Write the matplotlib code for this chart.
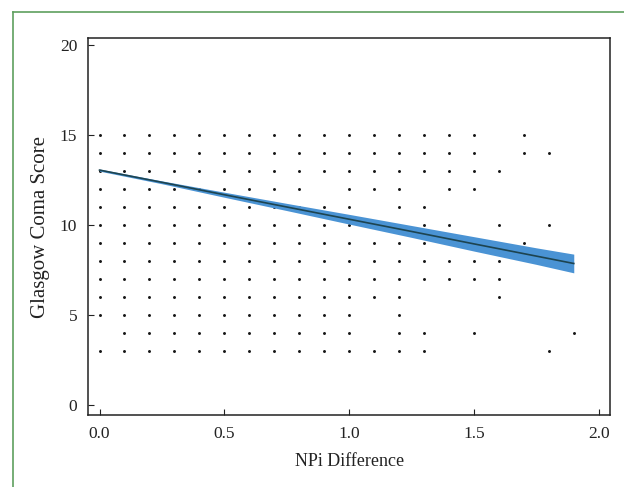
import matplotlib
matplotlib.use('Agg')

import matplotlib.pyplot as plt
from matplotlib.lines import Line2D
import numpy as np

# NPi Difference values that have a point, one list per Glasgow Coma Score
npi_gcs15 = [0.0, 0.1, 0.2, 0.3, 0.4, 0.5, 0.6, 0.7, 0.8, 0.9, 1.0, 1.1, 1.2, 1.3, 1.4, 1.5, 1.7]
npi_gcs14 = [0.0, 0.1, 0.2, 0.3, 0.4, 0.5, 0.6, 0.7, 0.8, 0.9, 1.0, 1.1, 1.2, 1.3, 1.4, 1.5, 1.7, 1.8]
npi_gcs13 = [0.0, 0.1, 0.2, 0.3, 0.4, 0.5, 0.6, 0.7, 0.8, 0.9, 1.0, 1.1, 1.2, 1.3, 1.4, 1.5, 1.6]
npi_gcs12 = [0.0, 0.1, 0.2, 0.3, 0.4, 0.5, 0.6, 0.7, 0.8, 1.0, 1.1, 1.2, 1.4, 1.5]
npi_gcs11 = [0.0, 0.1, 0.2, 0.3, 0.4, 0.5, 0.6, 0.7, 0.8, 0.9, 1.0, 1.2, 1.3]
npi_gcs10 = [0.0, 0.1, 0.2, 0.3, 0.4, 0.5, 0.6, 0.7, 0.8, 0.9, 1.0, 1.1, 1.2, 1.3, 1.4, 1.6, 1.8]
npi_gcs9 = [0.0, 0.1, 0.2, 0.3, 0.4, 0.5, 0.6, 0.7, 0.8, 0.9, 1.0, 1.1, 1.2, 1.3, 1.4, 1.5, 1.7]
npi_gcs8 = [0.0, 0.1, 0.2, 0.3, 0.4, 0.5, 0.6, 0.7, 0.8, 0.9, 1.0, 1.1, 1.2, 1.3, 1.4, 1.5, 1.6]
npi_gcs7 = [0.0, 0.1, 0.2, 0.3, 0.4, 0.5, 0.6, 0.7, 0.8, 0.9, 1.0, 1.1, 1.2, 1.3, 1.4, 1.5, 1.6]
npi_gcs6 = [0.0, 0.1, 0.2, 0.3, 0.4, 0.5, 0.6, 0.7, 0.8, 0.9, 1.0, 1.1, 1.2, 1.6]
npi_gcs5 = [0.0, 0.1, 0.2, 0.3, 0.4, 0.5, 0.6, 0.7, 0.8, 0.9, 1.0, 1.2]
npi_gcs4 = [0.1, 0.2, 0.3, 0.4, 0.5, 0.6, 0.7, 0.8, 0.9, 1.0, 1.2, 1.3, 1.5, 1.9]
npi_gcs3 = [0.0, 0.1, 0.2, 0.3, 0.4, 0.5, 0.6, 0.7, 0.8, 0.9, 1.0, 1.1, 1.2, 1.3, 1.8]

rows = {15: npi_gcs15, 14: npi_gcs14, 13: npi_gcs13, 12: npi_gcs12, 11: npi_gcs11,
        10: npi_gcs10, 9: npi_gcs9, 8: npi_gcs8, 7: npi_gcs7, 6: npi_gcs6,
        5: npi_gcs5, 4: npi_gcs4, 3: npi_gcs3}

# regression line and its confidence band
fit_x = [0.0, 0.25, 0.5, 0.75, 1.0, 1.25, 1.5, 1.75, 1.9]
fit_y = [13.06, 12.38, 11.69, 11.01, 10.33, 9.65, 8.96, 8.28, 7.87]
ci_lo = [13.00, 12.30, 11.55, 10.81, 10.06, 9.32, 8.56, 7.82, 7.35]
ci_hi = [13.12, 12.46, 11.83, 11.21, 10.60, 9.98, 9.36, 8.74, 8.39]

plt.rcParams['font.family'] = ['Liberation Serif', 'DejaVu Serif']

fig = plt.figure(figsize=(6.24, 4.87), dpi=100)
ax = fig.add_axes([0.1415, 0.1478, 0.836, 0.7742])

xs = np.concatenate([np.array(v) for v in rows.values()])
ys = np.concatenate([np.full(len(v), k) for k, v in rows.items()])
ax.scatter(xs, ys, s=4.5, color='#151515', linewidths=0, zorder=2)

ax.fill_between(fit_x, ci_lo, ci_hi, color='#4a93d4', linewidth=0, zorder=3)
ax.plot(fit_x, fit_y, color='#1d4450', linewidth=1.2, zorder=4)

ax.set_xlim(-0.045, 2.045)
ax.set_ylim(-0.55, 20.4)
ax.set_xticks([0.0, 0.5, 1.0, 1.5, 2.0])
ax.set_yticks([0, 5, 10, 15, 20])
ax.tick_params(direction='in', length=4, width=0.8, labelsize=12.5,
               top=False, right=False, colors='#222222')
ax.tick_params(axis='x', pad=8)
ax.tick_params(axis='y', pad=8)
for s in ax.spines.values():
    s.set_linewidth(1.1)
    s.set_color('#222222')

ax.set_xlabel('NPi Difference', fontsize=13, color='#222222', labelpad=8)
ax.set_ylabel('Glasgow Coma Score', fontsize=15, color='#222222', labelpad=7)

# green frame on the left and top edges of the figure
fig.add_artist(Line2D([13 / 624, 13 / 624], [0, 1 - 12 / 487], transform=fig.transFigure,
                      color='#5f9f5f', linewidth=1.2))
fig.add_artist(Line2D([13 / 624, 1], [1 - 12 / 487, 1 - 12 / 487], transform=fig.transFigure,
                      color='#5f9f5f', linewidth=1.2))

fig.savefig('out.png', dpi=100)
